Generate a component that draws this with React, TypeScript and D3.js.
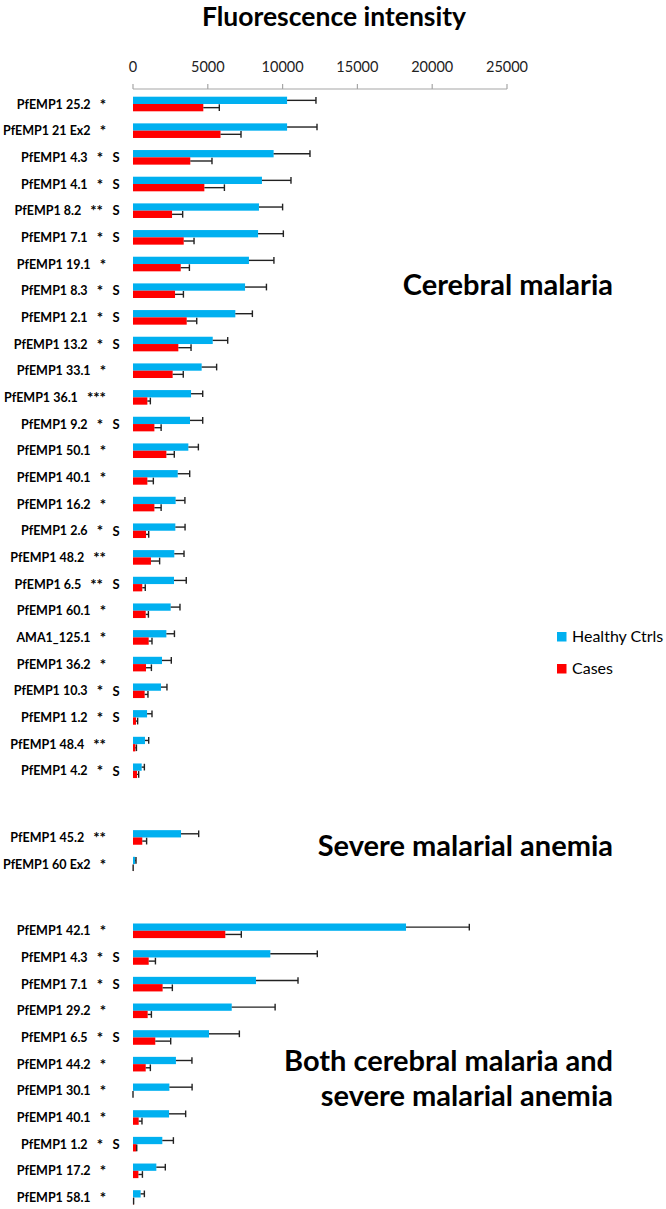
import React from "react";
import * as d3 from "d3";

// ---------- DATA ----------
const cerebralNames = [
  "PfEMP1 25.2", "PfEMP1 21 Ex2", "PfEMP1 4.3", "PfEMP1 4.1", "PfEMP1 8.2", "PfEMP1 7.1",
  "PfEMP1 19.1", "PfEMP1 8.3", "PfEMP1 2.1", "PfEMP1 13.2", "PfEMP1 33.1", "PfEMP1 36.1",
  "PfEMP1 9.2", "PfEMP1 50.1", "PfEMP1 40.1", "PfEMP1 16.2", "PfEMP1 2.6", "PfEMP1 48.2",
  "PfEMP1 6.5", "PfEMP1 60.1", "AMA1_125.1", "PfEMP1 36.2", "PfEMP1 10.3", "PfEMP1 1.2",
  "PfEMP1 48.4", "PfEMP1 4.2",
];
const cerebralStars = [
  "*", "*", "*", "*", "**", "*", "*", "*", "*", "*", "*", "***", "*", "*", "*", "*", "*", "**",
  "**", "*", "*", "*", "*", "*", "**", "*",
];
const cerebralS = [
  false, false, true, true, true, true, false, true, true, true, false, false, true, false,
  false, false, true, false, true, false, false, false, true, true, false, true,
];
const cerebralHealthy = [
  10300, 10300, 9400, 8620, 8420, 8360, 7750, 7490, 6840, 5330, 4590, 3880, 3810, 3700, 2990,
  2850, 2830, 2760, 2740, 2520, 2230, 1940, 1870, 940, 800, 580,
];
const cerebralHealthyErr = [
  1930, 2000, 2430, 1940, 1580, 1690, 1670, 1430, 1140, 1000, 1000, 780, 850, 670, 800, 620,
  650, 650, 820, 620, 540, 620, 400, 330, 250, 180,
];
const cerebralCases = [
  4700, 5850, 3830, 4770, 2610, 3390, 3190, 2810, 3590, 3030, 2650, 960, 1430, 2230, 960, 1430,
  870, 1200, 620, 850, 1050, 870, 780, 200, 160, 270,
];
const cerebralCasesErr = [
  1070, 1370, 1450, 1340, 710, 690, 580, 560, 670, 850, 710, 200, 450, 530, 400, 450, 180, 580,
  200, 180, 220, 360, 220, 110, 70, 110,
];

const severeNames = ["PfEMP1 45.2", "PfEMP1 60 Ex2"];
const severeStars = ["**", "*"];
const severeS = [false, false];
const severeHealthy = [3210, 150];
const severeHealthyErr = [1180, 50];
const severeCases = [620, 10];
const severeCasesErr = [290, 0];

const bothNames = [
  "PfEMP1 42.1", "PfEMP1 4.3", "PfEMP1 7.1", "PfEMP1 29.2", "PfEMP1 6.5", "PfEMP1 44.2",
  "PfEMP1 30.1", "PfEMP1 40.1", "PfEMP1 1.2", "PfEMP1 17.2", "PfEMP1 58.1",
];
const bothStars = ["*", "*", "*", "*", "*", "*", "*", "*", "*", "*", "*"];
const bothS = [false, true, true, false, true, false, false, false, true, false, false];
const bothHealthy = [18250, 9180, 8220, 6600, 5080, 2870, 2430, 2410, 1960, 1560, 510];
const bothHealthyErr = [4230, 3140, 2810, 2900, 2030, 1070, 1520, 1110, 740, 600, 250];
const bothCases = [6170, 1050, 1980, 980, 1490, 850, 0, 380, 220, 360, 40];
const bothCasesErr = [1070, 450, 650, 250, 1030, 310, 0, 220, 30, 270, 0];

const groupTitles = [
  ["Cerebral malaria"],
  ["Severe malarial anemia"],
  ["Both cerebral malaria and", "severe malarial anemia"],
];
const seriesNames = ["Healthy Ctrls", "Cases"];
const xTicks = [0, 5000, 10000, 15000, 20000, 25000];
const chartTitle = "Fluorescence intensity";

// ---------- LAYOUT ----------
const W = 666;
const H = 1209;
const BLUE = "#00B0F0";
const RED = "#FF0000";
const FONT = "Lato, 'Open Sans', sans-serif";

type Row = {
  name: string; stars: string; s: boolean;
  h: number; he: number; c: number; ce: number; slot: number;
};

function buildRows(names: string[], stars: string[], s: boolean[], h: number[], he: number[], c: number[], ce: number[], start: number): Row[] {
  return names.map((n, i) => ({
    name: n, stars: stars[i], s: s[i], h: h[i], he: he[i], c: c[i], ce: ce[i], slot: start + i,
  }));
}

const groupStarts = [0, 27.5, 31];
const groups: Row[][] = [
  buildRows(cerebralNames, cerebralStars, cerebralS, cerebralHealthy, cerebralHealthyErr, cerebralCases, cerebralCasesErr, groupStarts[0]),
  buildRows(severeNames, severeStars, severeS, severeHealthy, severeHealthyErr, severeCases, severeCasesErr, groupStarts[1]),
  buildRows(bothNames, bothStars, bothS, bothHealthy, bothHealthyErr, bothCases, bothCasesErr, groupStarts[2]),
];
const allRows = groups.flat();

export default function App() {
  const x = d3.scaleLinear().domain([0, 25000]).range([133, 507]);
  const y = d3.scaleLinear().domain([0, 41]).range([104, 1197.5]);
  const barH = 7.3;
  const inner = d3.scaleBand<string>().domain(seriesNames).range([-barH, barH]).padding(0);
  const axisY = 89;

  const titleBaselines = [295, 856, 1071];
  const titleLineGap = 35;

  return (
    <svg width={W} height={H} style={{ position: "absolute", left: 0, top: 0, background: "#fff" }} fontFamily={FONT}>
      <rect x={0} y={0} width={W} height={H} fill="#fff" />
      {/* Title */}
      <text x={334} y={26} textAnchor="middle" fontSize={26.5} fontWeight={700} fill="#000">{chartTitle}</text>

      {/* Axis */}
      <g>
        <line x1={x(0)} x2={x(25000)} y1={axisY} y2={axisY} stroke="#A6A6A6" strokeWidth={1.2} />
        {xTicks.map((t) => (
          <g key={t}>
            <line x1={x(t)} x2={x(t)} y1={axisY - 5} y2={axisY} stroke="#A6A6A6" strokeWidth={1.2} />
            <text x={x(t)} y={72} textAnchor="middle" fontSize={14.5} fill="#222">{t}</text>
          </g>
        ))}
      </g>

      {/* Bars */}
      {allRows.map((r, i) => {
        const cy = y(r.slot);
        const series = [
          { key: seriesNames[0], v: r.h, e: r.he, color: BLUE },
          { key: seriesNames[1], v: r.c, e: r.ce, color: RED },
        ];
        return (
          <g key={i}>
            {series.map((sr) => {
              const top = cy + (inner(sr.key) as number);
              const mid = top + inner.bandwidth() / 2;
              return (
                <g key={sr.key}>
                  <rect x={x(0)} y={top} width={Math.max(0, x(sr.v) - x(0))} height={inner.bandwidth()} fill={sr.color} />
                  <line x1={x(sr.v)} x2={x(sr.v + sr.e)} y1={mid} y2={mid} stroke="#222" strokeWidth={1.4} />
                  <line x1={x(sr.v + sr.e)} x2={x(sr.v + sr.e)} y1={top + 0.3} y2={top + inner.bandwidth() - 0.3} stroke="#222" strokeWidth={1.4} />
                </g>
              );
            })}
            <text x={r.s ? 103 : 106} y={cy + 4.5} textAnchor="end" fontSize={12.5} fontWeight={700} fill="#000">
              <tspan>{r.name}</tspan>
              <tspan dx={9} fontSize={15} dy={1}>{r.stars}</tspan>
            </text>
            {r.s && (
              <text x={112.5} y={cy + 4.8} fontSize={13} fontWeight={700} fill="#000">S</text>
            )}
          </g>
        );
      })}

      {/* Group titles */}
      {groupTitles.map((lines, gi) => (
        <text key={gi} x={613} y={titleBaselines[gi]} textAnchor="end" fontSize={29} fontWeight={700} fill="#000">
          {lines.map((ln, li) => (
            <tspan key={li} x={613} dy={li === 0 ? 0 : titleLineGap}>{ln}</tspan>
          ))}
        </text>
      ))}

      {/* Legend */}
      {seriesNames.map((s, i) => (
        <g key={s} transform={`translate(557, ${632 + i * 32})`}>
          <rect x={0} y={0} width={9.5} height={9.5} fill={i === 0 ? BLUE : RED} />
          <text x={15} y={10} fontSize={16} fill="#000">{s}</text>
        </g>
      ))}
    </svg>
  );
}
